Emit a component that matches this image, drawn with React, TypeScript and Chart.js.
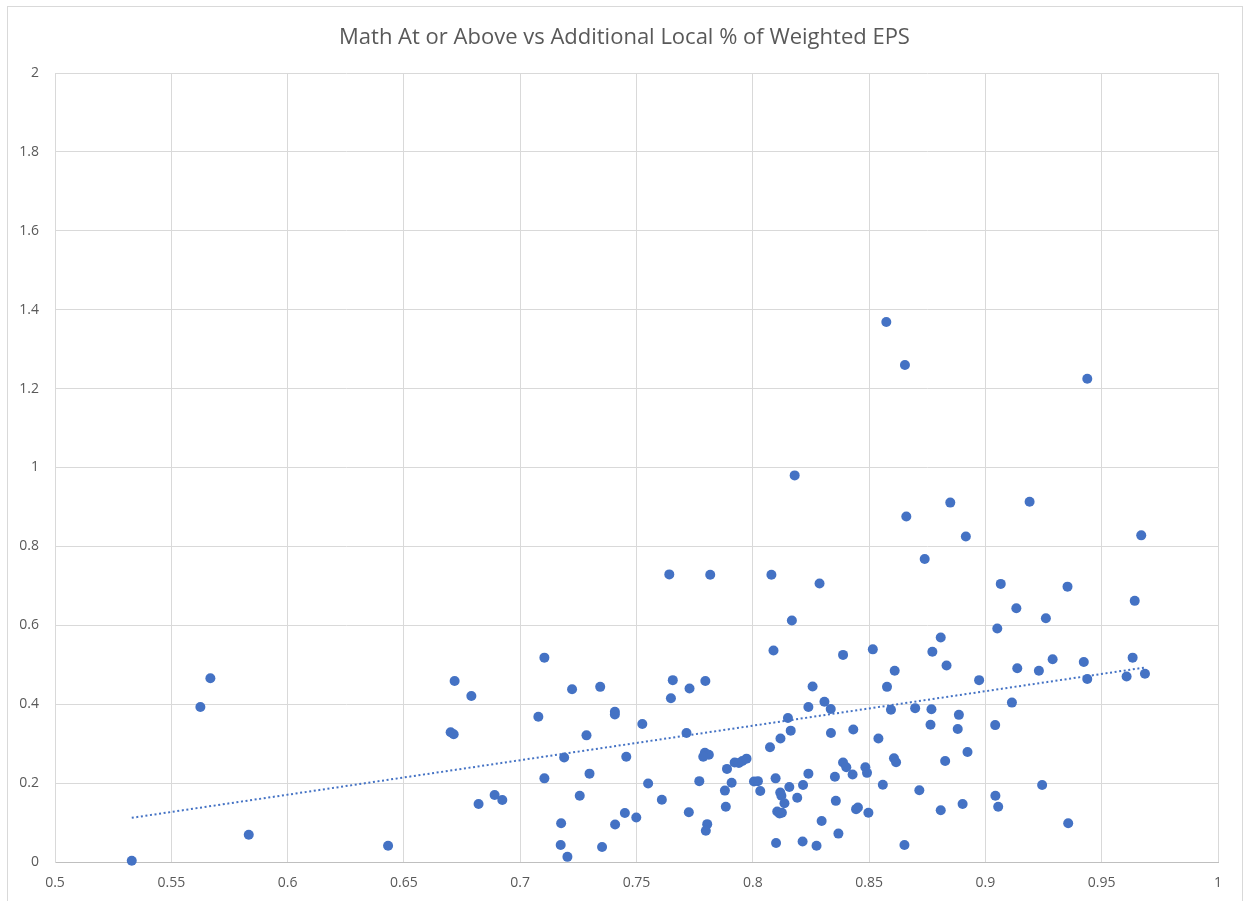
import React, { useEffect, useRef } from "react";
import { Chart, registerables } from "chart.js";

Chart.register(...registerables);

const chartTitle = "Math At or Above vs Additional Local % of Weighted EPS";

// Additional Local % of Weighted EPS (x) and Math At or Above (y)
const xValues = [
  0.533, 0.5625, 0.5668, 0.5833, 0.6432, 0.6701, 0.6714, 0.6718, 0.679, 0.6821,
  0.689, 0.6923, 0.7078, 0.7104, 0.7104, 0.7176, 0.7174, 0.7189, 0.7203, 0.7223,
  0.7256, 0.7285, 0.7298, 0.7344, 0.7352, 0.7407, 0.7407, 0.7408, 0.745, 0.7456,
  0.7499, 0.7525, 0.755, 0.7609, 0.7641, 0.7648, 0.7656, 0.7715, 0.7725, 0.7728,
  0.777, 0.7794, 0.7796, 0.7811, 0.7804, 0.7798, 0.7817, 0.7787, 0.7884, 0.788,
  0.7889, 0.7909, 0.7922, 0.794, 0.7955, 0.7973, 0.8005, 0.8022, 0.8032, 0.8074,
  0.808, 0.8089, 0.8098, 0.81, 0.8105, 0.8115, 0.8125, 0.8118, 0.8123, 0.8136,
  0.8119, 0.8151, 0.8157, 0.8163, 0.8168, 0.818, 0.8191, 0.8216, 0.8214, 0.8239,
  0.8239, 0.8257, 0.8274, 0.8287, 0.8296, 0.8308, 0.8335, 0.8336, 0.8353, 0.8357,
  0.8368, 0.8388, 0.8388, 0.8402, 0.8429, 0.8432, 0.8444, 0.8452, 0.8484, 0.8491,
  0.8497, 0.8516, 0.854, 0.8559, 0.8574, 0.8577, 0.8594, 0.861, 0.8607, 0.8616,
  0.8652, 0.8654, 0.866, 0.8698, 0.8716, 0.8739, 0.8764, 0.8768, 0.8772, 0.8808,
  0.8808, 0.8827, 0.8833, 0.8849, 0.8881, 0.8886, 0.8902, 0.8916, 0.8923, 0.8973,
  0.9042, 0.9043, 0.9055, 0.9051, 0.9066, 0.9114, 0.9133, 0.9137, 0.919, 0.923,
  0.9244, 0.926, 0.9289, 0.9353, 0.9356, 0.9423, 0.9438, 0.9438, 0.9607, 0.9633,
  0.9642, 0.967, 0.9686,
];

const yValues = [
  0.003, 0.393, 0.466, 0.069, 0.041, 0.329, 0.324, 0.459, 0.421, 0.147,
  0.17, 0.157, 0.368, 0.518, 0.212, 0.098, 0.043, 0.265, 0.013, 0.438,
  0.168, 0.321, 0.224, 0.444, 0.038, 0.381, 0.374, 0.095, 0.124, 0.267,
  0.113, 0.35, 0.199, 0.158, 0.729, 0.415, 0.461, 0.327, 0.126, 0.44,
  0.205, 0.277, 0.459, 0.272, 0.096, 0.079, 0.728, 0.267, 0.14, 0.181,
  0.236, 0.201, 0.252, 0.251, 0.256, 0.262, 0.204, 0.205, 0.18, 0.291,
  0.728, 0.536, 0.212, 0.048, 0.128, 0.123, 0.125, 0.176, 0.168, 0.149,
  0.313, 0.365, 0.19, 0.333, 0.612, 0.98, 0.163, 0.195, 0.052, 0.224,
  0.393, 0.445, 0.041, 0.706, 0.104, 0.406, 0.388, 0.327, 0.216, 0.155,
  0.072, 0.252, 0.525, 0.24, 0.222, 0.336, 0.134, 0.138, 0.24, 0.226,
  0.125, 0.539, 0.313, 0.196, 1.369, 0.444, 0.386, 0.485, 0.263, 0.253,
  0.043, 1.26, 0.876, 0.39, 0.182, 0.768, 0.348, 0.387, 0.533, 0.569,
  0.131, 0.256, 0.498, 0.911, 0.337, 0.373, 0.147, 0.825, 0.279, 0.461,
  0.347, 0.168, 0.14, 0.592, 0.705, 0.404, 0.643, 0.491, 0.913, 0.485,
  0.195, 0.618, 0.514, 0.698, 0.098, 0.507, 1.225, 0.464, 0.47, 0.518,
  0.662, 0.828, 0.477,
];

// Linear trendline endpoints (as shown in the chart)
const trendX = [0.533, 0.9686];
const trendY = [0.112, 0.493];

const xTickMin = 0.5;
const xTickMax = 1;
const xTickStep = 0.05;
const yTickMin = 0;
const yTickMax = 2;
const yTickStep = 0.2;

const BLUE = "#4472C4";
const TEXT = "#595959";
const FONT = "'Open Sans', 'Liberation Sans', sans-serif";

// chart frame (outer border) in page pixels
const FRAME_LEFT = 7;
const FRAME_RIGHT = 1242;
const FRAME_TOP = 6;

const frameTitlePlugin = {
  id: "frameTitle",
  afterDraw(chart: any) {
    const ctx = chart.ctx;
    ctx.save();
    ctx.font = `normal 22px ${FONT}`;
    ctx.fillStyle = TEXT;
    ctx.textAlign = "center";
    ctx.textBaseline = "middle";
    ctx.fillText(chartTitle, (FRAME_LEFT + FRAME_RIGHT) / 2, 38);
    ctx.restore();
  },
};

export default function App() {
  const canvasRef = useRef<HTMLCanvasElement | null>(null);

  useEffect(() => {
    const canvas = canvasRef.current;
    if (!canvas) return;
    const points = xValues.map((x, i) => ({ x, y: yValues[i] }));
    const trend = trendX.map((x, i) => ({ x, y: trendY[i] }));
    const fmt = (v: any) => String(Number(Number(v).toFixed(2)));

    const chart = new Chart(canvas, {
      type: "scatter",
      data: {
        datasets: [
          {
            label: "Trend",
            data: trend,
            showLine: true,
            borderColor: BLUE,
            borderWidth: 2,
            borderDash: [2, 2.6],
            pointRadius: 0,
            fill: false,
            order: 0,
            clip: false,
          } as any,
          {
            label: "Math At or Above",
            data: points,
            backgroundColor: BLUE,
            borderColor: BLUE,
            borderWidth: 0,
            pointRadius: 5,
            pointHoverRadius: 5,
            order: 1,
            clip: false,
          } as any,
        ],
      },
      options: {
        responsive: false,
        animation: false,
        layout: { padding: { left: 0, right: 26, top: 73, bottom: 0 } },
        plugins: {
          legend: { display: false },
          tooltip: { enabled: false },
          title: { display: false },
        },
        scales: {
          x: {
            type: "linear",
            min: xTickMin,
            max: xTickMax,
            afterFit: (s: any) => {
              s.height = 39;
            },
            ticks: {
              stepSize: xTickStep,
              color: TEXT,
              font: { family: FONT, size: 14 },
              padding: 13,
              maxRotation: 0,
              autoSkip: false,
              callback: (v: any) => fmt(v),
            },
            grid: { color: "#d9d9d9", lineWidth: 1, drawTicks: false },
            border: { color: "#bfbfbf", width: 1 },
          },
          y: {
            type: "linear",
            min: yTickMin,
            max: yTickMax,
            afterFit: (s: any) => {
              s.width = 55;
            },
            ticks: {
              stepSize: yTickStep,
              color: TEXT,
              font: { family: FONT, size: 14 },
              padding: 16,
              callback: (v: any) => fmt(v),
            },
            grid: { color: "#d9d9d9", lineWidth: 1, drawTicks: false },
            border: { color: "#d9d9d9", width: 1 },
          },
        },
      } as any,
      plugins: [frameTitlePlugin],
    });
    return () => chart.destroy();
  }, []);

  return (
    <div>
      <div
        style={{
          position: "absolute",
          left: FRAME_LEFT,
          top: FRAME_TOP,
          width: FRAME_RIGHT - FRAME_LEFT + 1,
          height: 901 - FRAME_TOP,
          boxSizing: "border-box",
          borderTop: "1px solid #d9d9d9",
          borderLeft: "1px solid #d9d9d9",
          borderRight: "1px solid #d9d9d9",
        }}
      />
      <canvas
        ref={canvasRef}
        width={1244}
        height={901}
        style={{ position: "absolute", left: 0, top: 0, width: 1244, height: 901 }}
      />
    </div>
  );
}
